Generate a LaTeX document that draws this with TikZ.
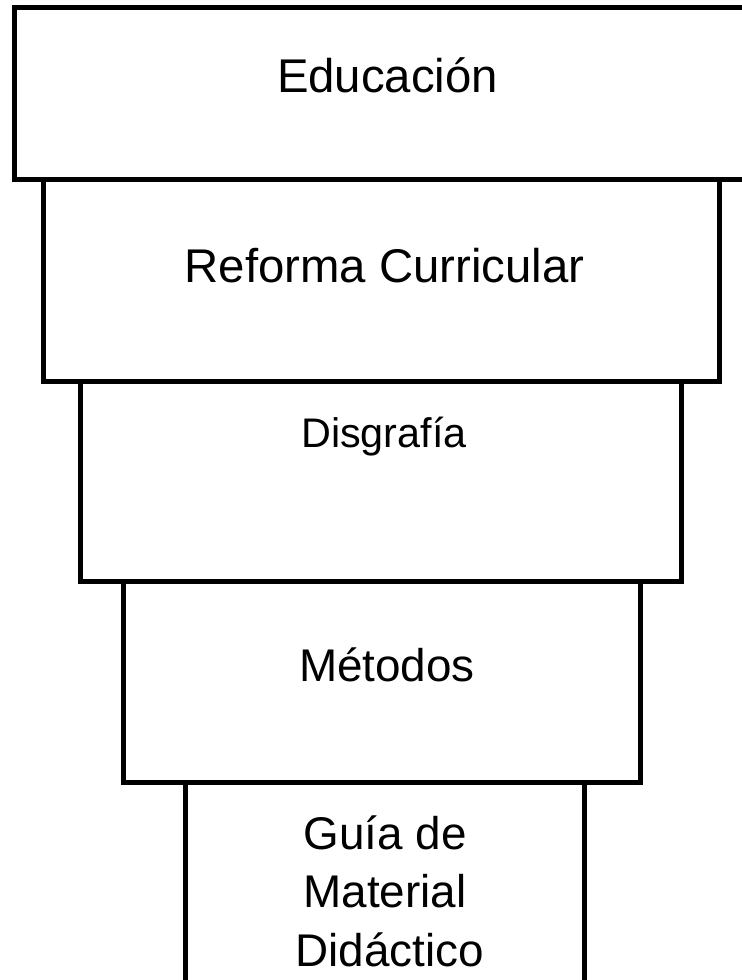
\documentclass[tikz,border=0pt]{standalone}
\usepackage{fontspec}
\setmainfont{Liberation Sans}
\begin{document}
\begin{tikzpicture}[x=1bp, y=-1bp, line width=5bp,
	tier/.style = {draw, rectangle, fill=white, inner sep=0pt},
	word/.style = {inner sep=0pt, anchor=base, font=\fontsize{46}{55}\selectfont},
	big/.style = {font=\fontsize{47.5}{57}\selectfont}]

	\useasboundingbox (0,0) rectangle (742,980);

	\node[tier, minimum width=745bp, minimum height=171.5bp] (1) at (387.5, 93.25) {};
	\node[tier, minimum width=675bp, minimum height=202bp] (2) at (381.5, 280) {};
	\node[tier, minimum width=600bp, minimum height=200bp] (3) at (381, 481) {};
	\node[tier, minimum width=516bp, minimum height=201bp] (4) at (382, 681.5) {};
	\node[tier, minimum width=398bp, minimum height=230bp] (5) at (385, 897) {};

	\node[word, big] (e) at (387.5, 92) {Educación};
	\node[word, big] (r) at (384.5, 282) {Reforma Curricular};
	\node[word, font=\fontsize{41.5}{50}\selectfont] (d) at (384, 447) {Disgrafía};
	\node[word] (m) at (387, 681) {Métodos};
	\node[word] (g1) at (385, 849) {Guía de};
	\node[word] (g2) at (385, 907) {Material};
	\node[word] (g3) at (389.5, 966) {Didáctico};

\end{tikzpicture}
\end{document}
